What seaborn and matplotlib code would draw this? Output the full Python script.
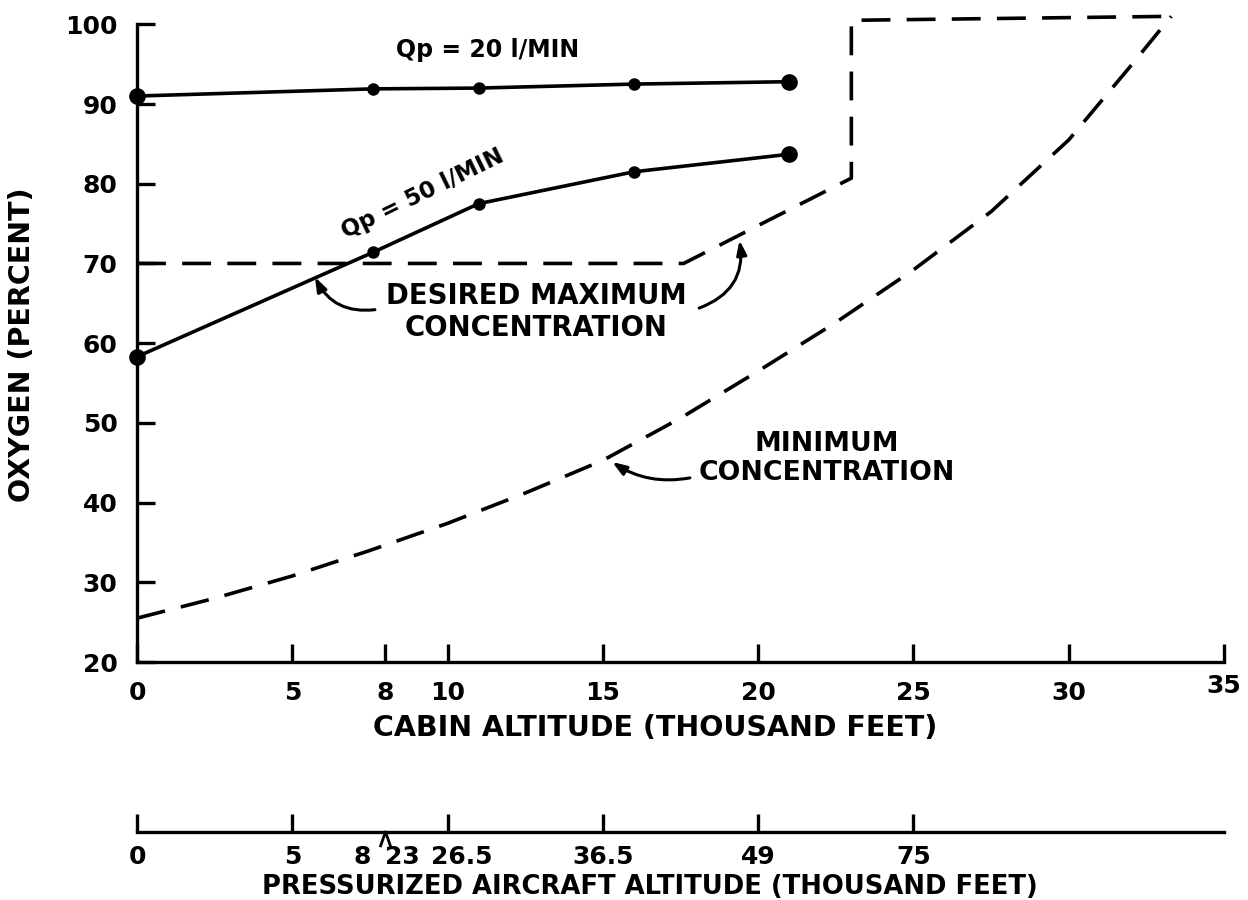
import matplotlib
matplotlib.use("Agg")
import matplotlib.pyplot as plt
from matplotlib.transforms import ScaledTranslation
import seaborn as sns
import pandas as pd

# Oxygen delivered by the concentrator at two product flows (cabin altitude, thousand ft)
cabin_alt = [0, 7.6, 11, 16, 21]
o2_qp20 = [91.0, 91.9, 92.0, 92.5, 92.8]
o2_qp50 = [58.3, 71.4, 77.5, 81.5, 83.7]

# Desired maximum concentration envelope
max_alt = [0, 17.6, 23, 23, 33.3]
max_o2 = [70, 70, 80.7, 100.5, 101]

# Minimum concentration requirement
min_alt = [0, 2.5, 5, 7.5, 10, 12.5, 15, 17.5, 20, 22.5, 25, 27.5, 30, 32, 33.3]
min_o2 = [25.5, 28.0, 30.8, 34.0, 37.4, 41.2, 45.3, 50.6, 56.5, 62.6, 69.2, 76.5, 85.5, 94.8, 101]

# Axis scales
o2_ticks = [20, 30, 40, 50, 60, 70, 80, 90, 100]
cabin_ticks = [0, 5, 8, 10, 15, 20, 25, 30, 35]
aircraft_ticks = [0, 5, 10, 15, 20, 25]
aircraft_labels = ["0", "5", "8", "23", "26.5", "36.5", "49", "75"]
aircraft_label_pos = [0, 5, 7.25, 8.55, 10.45, 15, 20, 25]
aircraft_split = 8  # cabin altitude where the aircraft scale jumps from 8 to 23

INK = "black"
sns.set_theme(style="ticks", rc={"text.color": INK, "axes.labelcolor": INK,
                                 "xtick.color": INK, "ytick.color": INK,
                                 "axes.edgecolor": INK})
plt.rcParams["font.family"] = ["DejaVu Sans"]
plt.rcParams["font.weight"] = "bold"

LW = 2.6
DASH = (0, (8, 4.5))
TICK_FS = 18

fig = plt.figure(figsize=(12.48, 9), dpi=100)
ax = fig.add_axes([0.1098, 0.2644, 0.8710, 0.7086])

df20 = pd.DataFrame({"alt": cabin_alt, "o2": o2_qp20})
df50 = pd.DataFrame({"alt": cabin_alt, "o2": o2_qp50})
dfmax = pd.DataFrame({"alt": max_alt, "o2": max_o2})
dfmin = pd.DataFrame({"alt": min_alt, "o2": min_o2})

for df in (df20, df50):
    sns.lineplot(data=df, x="alt", y="o2", ax=ax, color=INK, lw=LW,
                 marker="o", markersize=9, markeredgewidth=0,
                 sort=False, estimator=None, clip_on=False, zorder=3)
    ax.plot(df["alt"].iloc[[0, -1]], df["o2"].iloc[[0, -1]], "o", color=INK,
            markersize=12, markeredgewidth=0, clip_on=False, zorder=4)

for df in (dfmax, dfmin):
    sns.lineplot(data=df, x="alt", y="o2", ax=ax, color=INK, lw=LW,
                 linestyle=DASH, sort=False, estimator=None, clip_on=False)

ax.set_xlim(0, 35)
ax.set_ylim(20, 100)
sns.despine(ax=ax)
for side in ("left", "bottom"):
    ax.spines[side].set_linewidth(2.4)

ax.set_yticks(o2_ticks)
ax.set_xticks(cabin_ticks)
ax.tick_params(axis="both", direction="in", length=13, width=2.4,
               labelsize=TICK_FS, pad=14)
for lab in ax.get_xticklabels() + ax.get_yticklabels():
    lab.set_fontweight("bold")
# the last cabin label sits a little higher
last = ax.get_xticklabels()[-1]
last.set_transform(last.get_transform() + ScaledTranslation(0, 7 / 100, fig.dpi_scale_trans))

ax.set_xlabel("CABIN ALTITUDE (THOUSAND FEET)", fontsize=20.5, fontweight="bold",
              va="center")
ax.xaxis.set_label_coords(0.4765, -0.1035)
ax.set_ylabel("OXYGEN (PERCENT)", fontsize=20.5, fontweight="bold", va="center")
ax.yaxis.set_label_coords(-0.106, 0.497)

# Curve labels
ax.text(11.3, 96.8, "Qp = 20 l/MIN", fontsize=17, fontweight="bold",
        ha="center", va="center")
ax.text(9.2, 78.7, "Qp = 50 l/MIN", fontsize=16.5, fontweight="bold",
        ha="center", va="center", rotation=26)
ax.text(12.85, 63.9, "DESIRED MAXIMUM\nCONCENTRATION", fontsize=19.8,
        fontweight="bold", ha="center", va="center", linespacing=1.15)
ax.text(22.2, 45.5, "MINIMUM\nCONCENTRATION", fontsize=19.3,
        fontweight="bold", ha="center", va="center", linespacing=1.15)

arrow = dict(arrowstyle="-|>,head_length=0.7,head_width=0.25", color=INK, lw=2.2,
             shrinkA=0, shrinkB=0)
ax.annotate("", xy=(5.73, 68.3), xytext=(7.66, 64.2),
            arrowprops=dict(arrow, connectionstyle="arc3,rad=-0.35"))
ax.annotate("", xy=(19.4, 72.9), xytext=(18.1, 64.4),
            arrowprops=dict(arrow, connectionstyle="arc3,rad=0.4"))
ax.annotate("", xy=(15.3, 45.1), xytext=(17.8, 43.1),
            arrowprops=dict(arrow, connectionstyle="arc3,rad=-0.2"))

# Equivalent pressurized-aircraft altitude scale
ax2 = fig.add_axes([0.1098, 1 - 832 / 900, 0.8710, 0.0005])
ax2.set_xlim(0, 35)
ax2.set_yticks([])
for side in ("left", "right", "top"):
    ax2.spines[side].set_visible(False)
ax2.spines["bottom"].set_linewidth(2.4)
ax2.patch.set_alpha(0)
ax2.xaxis.remove_overlapping_locs = False
ax2.set_xticks(aircraft_ticks, labels=[])
ax2.set_xticks(aircraft_label_pos, labels=aircraft_labels, minor=True)
ax2.tick_params(axis="x", which="major", direction="in", length=13, width=2.4)
ax2.tick_params(axis="x", which="minor", length=0, labelsize=TICK_FS, pad=9)
for lab in ax2.get_xticklabels(which="both"):
    lab.set_fontweight("bold")

# small chevron under the scale marking the 8 / 23 break
chevron = [(-0.7, -1), (0, 1), (0.7, -1)]
ax2.plot([aircraft_split], [0], marker=chevron, markersize=11,
         markerfacecolor="none", markeredgecolor=INK, markeredgewidth=2.0,
         linestyle="none", clip_on=False,
         transform=ax2.get_xaxis_transform()
         + ScaledTranslation(0, -7 / 100, fig.dpi_scale_trans))

fig.text(650 / 1248, 1 - 887 / 900, "PRESSURIZED AIRCRAFT ALTITUDE (THOUSAND FEET)",
         ha="center", va="center", fontsize=18.6, fontweight="bold")

fig.savefig("out.png", dpi=100, facecolor="white")
